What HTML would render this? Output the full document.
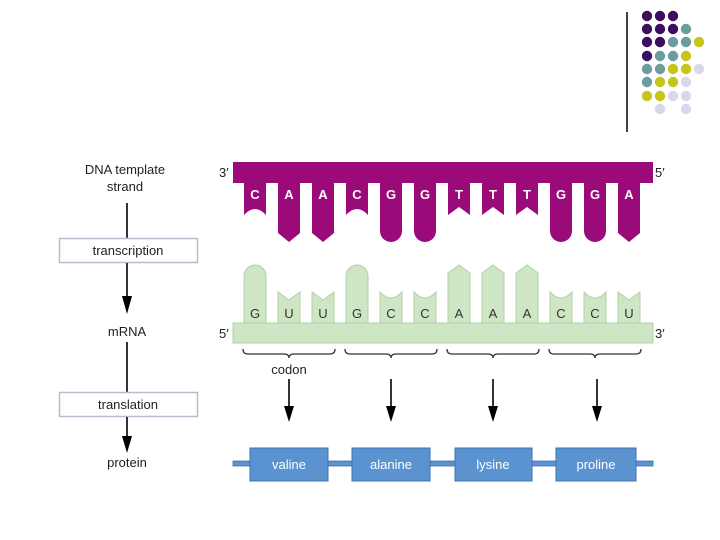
<!DOCTYPE html>
<html><head><meta charset="utf-8"><style>
html,body{margin:0;padding:0;background:#fff;}
svg{display:block;font-family:"Liberation Sans",sans-serif;}
</style></head><body>
<svg width="720" height="540" viewBox="0 0 720 540">
<line x1="627" y1="12" x2="627" y2="132" stroke="#000" stroke-width="1.5"/>
<g>
<circle cx="647" cy="16" r="5.2" fill="#3d0e5e"/><circle cx="660" cy="16" r="5.2" fill="#3d0e5e"/><circle cx="673" cy="16" r="5.2" fill="#3d0e5e"/>
<circle cx="647" cy="29" r="5.2" fill="#3d0e5e"/><circle cx="660" cy="29" r="5.2" fill="#3d0e5e"/><circle cx="673" cy="29" r="5.2" fill="#3d0e5e"/><circle cx="686" cy="29" r="5.2" fill="#6b9c9e"/>
<circle cx="647" cy="42" r="5.2" fill="#3d0e5e"/><circle cx="660" cy="42" r="5.2" fill="#3d0e5e"/><circle cx="673" cy="42" r="5.2" fill="#6b9c9e"/><circle cx="686" cy="42" r="5.2" fill="#6b9c9e"/><circle cx="699" cy="42" r="5.2" fill="#c8c41c"/>
<circle cx="647" cy="56" r="5.2" fill="#3d0e5e"/><circle cx="660" cy="56" r="5.2" fill="#6b9c9e"/><circle cx="673" cy="56" r="5.2" fill="#6b9c9e"/><circle cx="686" cy="56" r="5.2" fill="#c8c41c"/>
<circle cx="647" cy="69" r="5.2" fill="#6b9c9e"/><circle cx="660" cy="69" r="5.2" fill="#6b9c9e"/><circle cx="673" cy="69" r="5.2" fill="#c8c41c"/><circle cx="686" cy="69" r="5.2" fill="#c8c41c"/><circle cx="699" cy="69" r="5.2" fill="#d8d8ea"/>
<circle cx="647" cy="82" r="5.2" fill="#6b9c9e"/><circle cx="660" cy="82" r="5.2" fill="#c8c41c"/><circle cx="673" cy="82" r="5.2" fill="#c8c41c"/><circle cx="686" cy="82" r="5.2" fill="#d8d8ea"/>
<circle cx="647" cy="96" r="5.2" fill="#c8c41c"/><circle cx="660" cy="96" r="5.2" fill="#c8c41c"/><circle cx="673" cy="96" r="5.2" fill="#d8d8ea"/><circle cx="686" cy="96" r="5.2" fill="#d8d8ea"/>
<circle cx="660" cy="109" r="5.2" fill="#d8d8ea"/><circle cx="686" cy="109" r="5.2" fill="#d8d8ea"/>
</g>

<!-- left flow -->
<g font-size="13" fill="#222" text-anchor="middle">
<text x="125" y="174">DNA template</text>
<text x="125" y="191">strand</text>
<text x="127" y="336">mRNA</text>
<text x="127" y="467">protein</text>
</g>
<line x1="127" y1="203" x2="127" y2="238" stroke="#000" stroke-width="1.6"/>
<rect x="59.5" y="238.5" width="138" height="24" fill="#fff" stroke="#b8bccc" stroke-width="1.5"/>
<text x="128" y="255" font-size="13" fill="#222" text-anchor="middle">transcription</text>
<line x1="127" y1="263" x2="127" y2="298" stroke="#000" stroke-width="1.6"/>
<polygon points="122,296 132,296 127,314" fill="#000"/>
<line x1="127" y1="342" x2="127" y2="392" stroke="#000" stroke-width="1.6"/>
<rect x="59.5" y="392.5" width="138" height="24" fill="#fff" stroke="#b8bccc" stroke-width="1.5"/>
<text x="128" y="409" font-size="13" fill="#222" text-anchor="middle">translation</text>
<line x1="127" y1="417" x2="127" y2="438" stroke="#000" stroke-width="1.6"/>
<polygon points="122,436 132,436 127,453" fill="#000"/>

<!-- DNA -->
<g fill="#9a0a78">
<rect x="233" y="162" width="420" height="21"/>
<path d="M244 183V215Q255 203 266 215V183Z"/>
<path d="M278 183V233L289 242L300 233V183Z"/>
<path d="M312 183V233L323 242L334 233V183Z"/>
<path d="M346 183V215Q357 203 368 215V183Z"/>
<path d="M380 183V231A11 11 0 0 0 402 231V183Z"/>
<path d="M414 183V231A11 11 0 0 0 436 231V183Z"/>
<path d="M448 183V215L459 207L470 215V183Z"/>
<path d="M482 183V215L493 207L504 215V183Z"/>
<path d="M516 183V215L527 207L538 215V183Z"/>
<path d="M550 183V231A11 11 0 0 0 572 231V183Z"/>
<path d="M584 183V231A11 11 0 0 0 606 231V183Z"/>
<path d="M618 183V233L629 242L640 233V183Z"/>
</g>
<g font-size="13" fill="#fff" text-anchor="middle" font-weight="bold">
<text x="255" y="199">C</text><text x="289" y="199">A</text><text x="323" y="199">A</text><text x="357" y="199">C</text><text x="391" y="199">G</text><text x="425" y="199">G</text><text x="459" y="199">T</text><text x="493" y="199">T</text><text x="527" y="199">T</text><text x="561" y="199">G</text><text x="595" y="199">G</text><text x="629" y="199">A</text>
</g>
<g font-size="13" fill="#222">
<text x="219" y="177">3′</text><text x="655" y="177">5′</text>
<text x="219" y="338">5′</text><text x="655" y="338">3′</text>
</g>

<!-- mRNA -->
<g fill="#cfe6c4" stroke="#b3d0a6" stroke-width="1">
<path d="M244 323V276A11 11 0 0 1 266 276V323Z"/>
<path d="M278 323V292L289 300L300 292V323Z"/>
<path d="M312 323V292L323 300L334 292V323Z"/>
<path d="M346 323V276A11 11 0 0 1 368 276V323Z"/>
<path d="M380 323V292Q391 304 402 292V323Z"/>
<path d="M414 323V292Q425 304 436 292V323Z"/>
<path d="M448 323V273L459 265L470 273V323Z"/>
<path d="M482 323V273L493 265L504 273V323Z"/>
<path d="M516 323V273L527 265L538 273V323Z"/>
<path d="M550 323V292Q561 304 572 292V323Z"/>
<path d="M584 323V292Q595 304 606 292V323Z"/>
<path d="M618 323V292L629 300L640 292V323Z"/>
<rect x="233" y="323" width="420" height="20"/>
</g>
<g font-size="13" fill="#333" text-anchor="middle">
<text x="255" y="318">G</text><text x="289" y="318">U</text><text x="323" y="318">U</text><text x="357" y="318">G</text><text x="391" y="318">C</text><text x="425" y="318">C</text><text x="459" y="318">A</text><text x="493" y="318">A</text><text x="527" y="318">A</text><text x="561" y="318">C</text><text x="595" y="318">C</text><text x="629" y="318">U</text>
</g>

<!-- braces -->
<g fill="none" stroke="#333" stroke-width="1.3">
<path d="M243 349Q243 354 248 354H284Q289 354 289 358Q289 354 294 354H330Q335 354 335 349"/>
<path d="M345 349Q345 354 350 354H386Q391 354 391 358Q391 354 396 354H432Q437 354 437 349"/>
<path d="M447 349Q447 354 452 354H488Q493 354 493 358Q493 354 498 354H534Q539 354 539 349"/>
<path d="M549 349Q549 354 554 354H590Q595 354 595 358Q595 354 600 354H636Q641 354 641 349"/>
</g>
<text x="289" y="374" font-size="13" fill="#222" text-anchor="middle">codon</text>
<g stroke="#000" stroke-width="1.6">
<line x1="289" y1="379" x2="289" y2="408"/><line x1="391" y1="379" x2="391" y2="408"/><line x1="493" y1="379" x2="493" y2="408"/><line x1="597" y1="379" x2="597" y2="408"/>
</g>
<g fill="#000">
<polygon points="284,406 294,406 289,422"/><polygon points="386,406 396,406 391,422"/><polygon points="488,406 498,406 493,422"/><polygon points="592,406 602,406 597,422"/>
</g>

<!-- protein -->
<rect x="233" y="461" width="420" height="5" fill="#5a93cf" stroke="#3c74b0" stroke-width="0.8"/>
<g fill="#5a93cf" stroke="#3c74b0" stroke-width="1">
<rect x="250" y="448" width="78" height="33"/>
<rect x="352" y="448" width="78" height="33"/>
<rect x="455" y="448" width="77" height="33"/>
<rect x="556" y="448" width="80" height="33"/>
</g>
<g font-size="13" fill="#fff" text-anchor="middle">
<text x="289" y="469">valine</text><text x="391" y="469">alanine</text><text x="493" y="469">lysine</text><text x="596" y="469">proline</text>
</g>
</svg>
</body></html>
